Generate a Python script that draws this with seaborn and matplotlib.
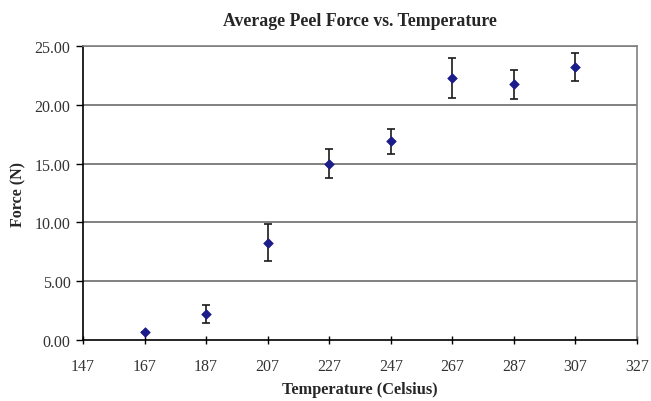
import matplotlib
matplotlib.use("Agg")
import matplotlib.pyplot as plt
import seaborn as sns
import pandas as pd

temperature = [167, 187, 207, 227, 247, 267, 287, 307]
force = [0.65, 2.2, 8.28, 15.0, 16.9, 22.28, 21.74, 23.19]
force_err = [0.0, 0.75, 1.6, 1.25, 1.08, 1.7, 1.25, 1.2]
x_ticks = [147, 167, 187, 207, 227, 247, 267, 287, 307, 327]
y_ticks = [0, 5, 10, 15, 20, 25]

df = pd.DataFrame({"Temperature": temperature, "Force": force, "err": force_err})

sns.set_style("white")
plt.rcParams["font.family"] = ["Liberation Serif", "DejaVu Serif"]

fig = plt.figure(figsize=(6.51, 4.02), dpi=100)
ax = fig.add_axes([0.1275, 0.1517, 0.851, 0.7313])

for y in y_ticks[1:]:
    ax.axhline(y, color="#808080", lw=1.4, zorder=0)

ax.errorbar(df["Temperature"], df["Force"], yerr=df["err"], fmt="none",
            ecolor="#1a1a1a", elinewidth=1.2, capsize=3, capthick=1.2, zorder=2)
sns.scatterplot(data=df, x="Temperature", y="Force", marker="D", s=24,
                color="#1c1c8a", edgecolor="#1c1c8a", linewidth=0.5, ax=ax, zorder=3)

ax.set_xlim(147, 327)
ax.set_ylim(0, 25)
ax.set_xticks(x_ticks)
ax.set_xticklabels([str(t) for t in x_ticks])
ax.set_yticks(y_ticks)
ax.set_yticklabels([f"{v:.2f}" for v in y_ticks])

ax.tick_params(axis="y", direction="out", length=5, width=1, color="black",
               labelsize=11.5, labelcolor="#333333", left=True, pad=4)
ax.tick_params(axis="x", direction="inout", length=6, width=1, color="black",
               labelsize=11.5, labelcolor="#333333", bottom=True, pad=10)

for side in ["left", "bottom"]:
    ax.spines[side].set_color("black")
    ax.spines[side].set_linewidth(1.2)
for side in ["top", "right"]:
    ax.spines[side].set_color("#808080")
    ax.spines[side].set_linewidth(1.2)

ax.set_xlabel("Temperature (Celsius)", fontsize=11.8, fontweight="bold", labelpad=5)
ax.set_ylabel("Force (N)", fontsize=11.5, fontweight="bold", labelpad=6)
ax.set_title("Average Peel Force vs. Temperature", fontsize=12.8, fontweight="bold", pad=15)

fig.savefig("out.png", dpi=100)
